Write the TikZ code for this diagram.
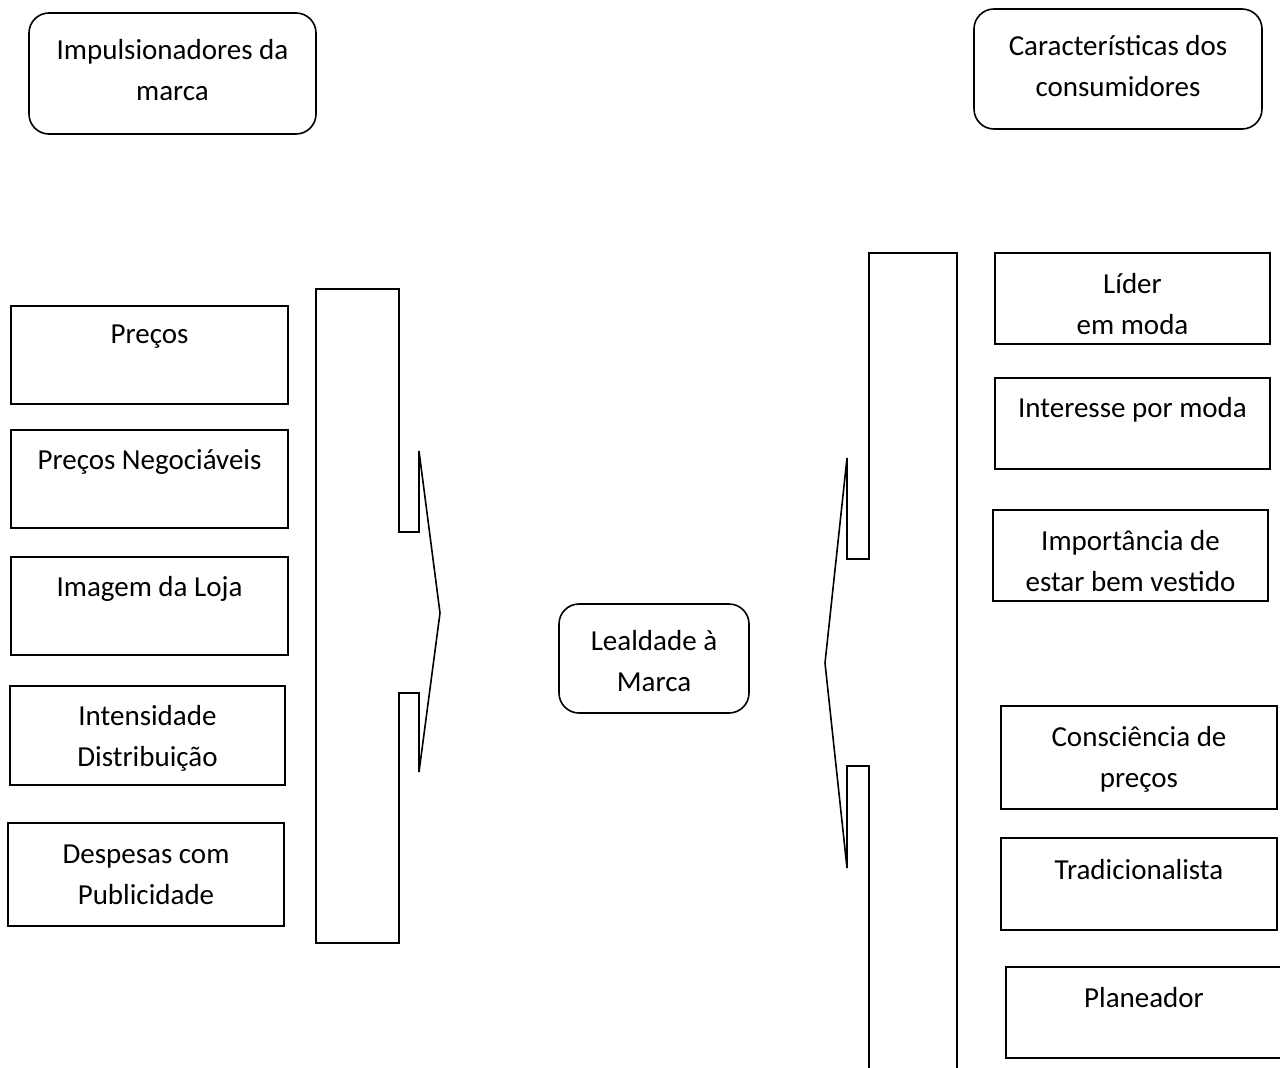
\documentclass[tikz,border=0pt]{standalone}
\usepackage{fontspec}
\setmainfont{Carlito}
\begin{document}
\begin{tikzpicture}[x=1pt,y=-1pt,
  box/.style={draw=black, line width=1.6pt, rectangle, inner sep=0pt},
  rbox/.style={draw=black, line width=1.6pt, rectangle, rounded corners=20pt, inner sep=0pt},
  txt/.style={align=center, inner sep=0pt, font=\fontsize{29}{41}\selectfont, yshift=-2pt},
  brk/.style={draw=black, line width=1.6pt, line join=miter}]
\useasboundingbox (0,0) rectangle (1280,1068);
\fill[white] (0,0) rectangle (1280,1068);

% top headers
\node[rbox, minimum width=287, minimum height=121] (t1) at (172.5,73.5) {};
\node[txt] (t1t) at (172.5,68.5) {Impulsionadores da\\marca};
\node[rbox, minimum width=288, minimum height=120] (t2) at (1118,69) {};
\node[txt] (t2t) at (1118,64) {Características dos\\consumidores};

% centre
\node[rbox, minimum width=190, minimum height=109] (c) at (654,658.5) {};
\node[txt] (ct) at (654,659) {Lealdade à\\Marca};

% left boxes
\node[box, minimum width=277, minimum height=98] (b1) at (149.5,355) {};
\node[txt] (b1t) at (149.5,335) {Preços};
\node[box, minimum width=277, minimum height=98] (b2) at (149.5,479) {};
\node[txt] (b2t) at (149.5,460) {Preços Negociáveis};
\node[box, minimum width=277, minimum height=98] (b3) at (149.5,606) {};
\node[txt] (b3t) at (149.5,587) {Imagem da Loja};
\node[box, minimum width=275, minimum height=99] (b4) at (147.5,735.5) {};
\node[txt] (b4t) at (147.5,736) {Intensidade\\Distribuição};
\node[box, minimum width=276, minimum height=103] (b5) at (146,874.5) {};
\node[txt] (b5t) at (146,873) {Despesas com\\Publicidade};

% right boxes
\node[box, minimum width=275, minimum height=91] (r1) at (1132.5,298.5) {};
\node[txt] (r1t) at (1132.5,302.5) {Líder\\em moda};
\node[box, minimum width=275, minimum height=91] (r2) at (1132.5,423.5) {};
\node[txt] (r2t) at (1132.5,408) {Interesse por moda};
\node[box, minimum width=275, minimum height=91] (r3) at (1130.5,555.5) {};
\node[txt] (r3t) at (1130.5,559.5) {Importância de\\estar bem vestido};
\node[box, minimum width=276, minimum height=103] (r4) at (1139,757.5) {};
\node[txt] (r4t) at (1139,757.5) {Consciência de\\preços};
\node[box, minimum width=276, minimum height=92] (r5) at (1139,884) {};
\node[txt] (r5t) at (1139,868) {Tradicionalista};
\node[box, minimum width=276, minimum height=91] (r6) at (1144,1012.5) {};
\node[txt] (r6t) at (1144,996) {Planeador};

% left bracket arrow
\draw[brk] (316,289) -- (399,289) -- (399,532) -- (419,532) -- (419,451)
  -- (440,613) -- (419,772) -- (419,693) -- (399,693) -- (399,943)
  -- (316,943) -- cycle;

% right bracket arrow
\draw[brk] (869,1085) -- (869,766) -- (847,766) -- (847,868) -- (825,663)
  -- (847,458) -- (847,559) -- (869,559) -- (869,253) -- (957,253) -- (957,1085);
\end{tikzpicture}
\end{document}
